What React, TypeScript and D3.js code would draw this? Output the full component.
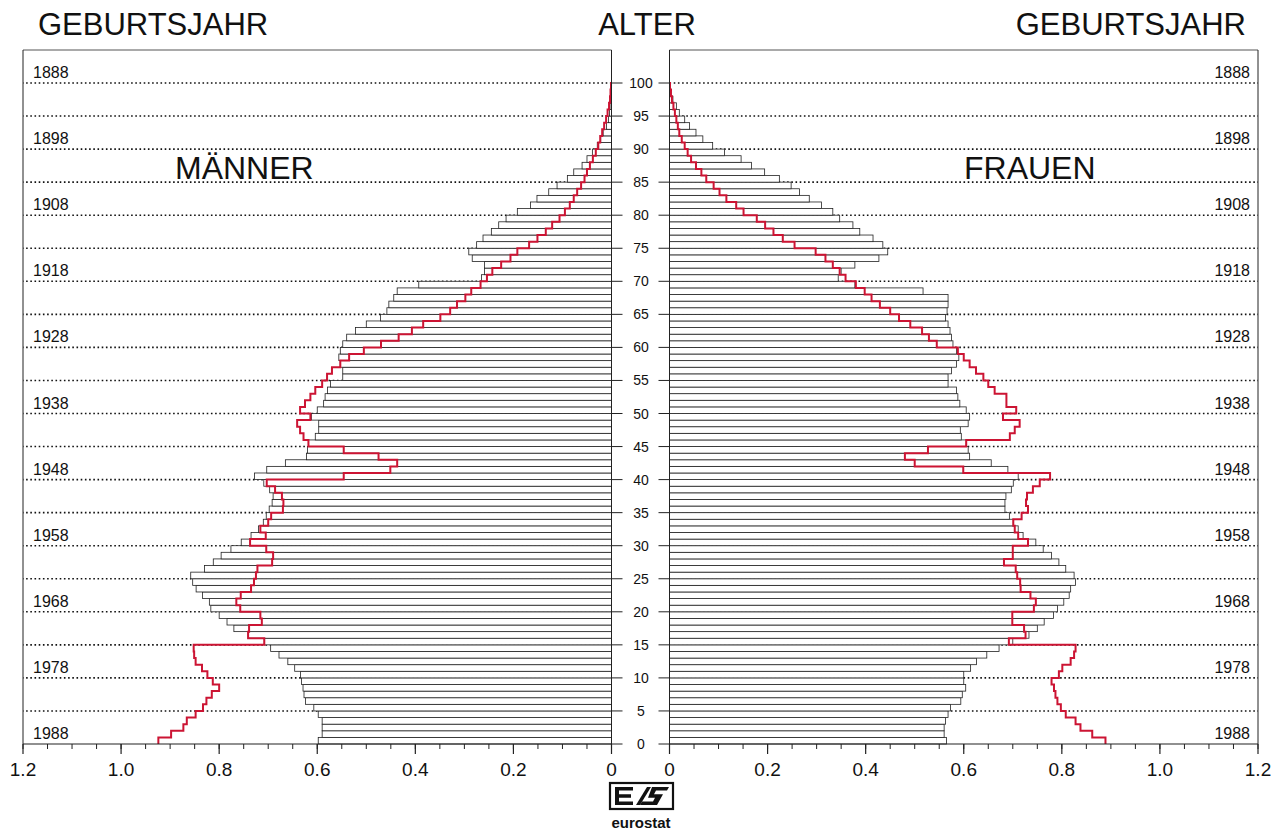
import React from 'react';
import * as d3 from 'd3';

// ---- data (ages 0..99, share in %) ----
const ageTicks = d3.range(0, 101, 5);
const birthYears = [1888, 1898, 1908, 1918, 1928, 1938, 1948, 1958, 1968, 1978, 1988];
const refYear = 1988;
const xTicks = [0, 0.2, 0.4, 0.6, 0.8, 1.0, 1.2];
const xTickLabels = ['0', '0.2', '0.4', '0.6', '0.8', '1.0', '1.2'];

const maleBars = [
  0.598, 0.590, 0.590, 0.590, 0.598, 0.607, 0.624, 0.627, 0.629, 0.632,
  0.634, 0.646, 0.660, 0.678, 0.695, 0.708, 0.741, 0.770, 0.784, 0.800,
  0.817, 0.820, 0.834, 0.847, 0.854, 0.858, 0.830, 0.812, 0.796, 0.776,
  0.755, 0.735, 0.720, 0.710, 0.704, 0.698, 0.692, 0.690, 0.697, 0.709,
  0.728, 0.703, 0.665, 0.622, 0.620, 0.618, 0.604, 0.597, 0.597, 0.612,
  0.600, 0.587, 0.584, 0.579, 0.573, 0.548, 0.548, 0.553, 0.556, 0.553,
  0.548, 0.540, 0.522, 0.500, 0.471, 0.458, 0.454, 0.444, 0.437, 0.393,
  0.265, 0.259, 0.259, 0.284, 0.291, 0.275, 0.262, 0.245, 0.230, 0.215,
  0.192, 0.165, 0.152, 0.128, 0.111, 0.090, 0.077, 0.060, 0.050, 0.039,
  0.029, 0.022, 0.017, 0.010, 0.006, 0.004, 0.003, 0.002, 0.001, 0.001,
];

const maleRed = [
  0.924, 0.898, 0.873, 0.866, 0.848, 0.833, 0.826, 0.815, 0.800, 0.813,
  0.824, 0.835, 0.848, 0.851, 0.852, 0.708, 0.741, 0.739, 0.713, 0.716,
  0.757, 0.765, 0.756, 0.735, 0.729, 0.725, 0.722, 0.692, 0.690, 0.704,
  0.737, 0.705, 0.716, 0.700, 0.694, 0.670, 0.669, 0.672, 0.686, 0.703,
  0.546, 0.451, 0.437, 0.475, 0.546, 0.618, 0.628, 0.635, 0.641, 0.614,
  0.635, 0.625, 0.614, 0.604, 0.590, 0.580, 0.570, 0.553, 0.535, 0.505,
  0.470, 0.434, 0.407, 0.384, 0.349, 0.329, 0.315, 0.298, 0.286, 0.267,
  0.254, 0.243, 0.225, 0.206, 0.192, 0.168, 0.151, 0.134, 0.121, 0.106,
  0.095, 0.085, 0.077, 0.070, 0.062, 0.055, 0.050, 0.044, 0.038, 0.032,
  0.027, 0.023, 0.019, 0.015, 0.011, 0.008, 0.005, 0.003, 0.002, 0.001,
];

const femaleBars = [
  0.565, 0.560, 0.560, 0.563, 0.568, 0.573, 0.594, 0.597, 0.604, 0.600,
  0.600, 0.614, 0.626, 0.647, 0.672, 0.700, 0.733, 0.750, 0.764, 0.783,
  0.791, 0.804, 0.815, 0.818, 0.828, 0.825, 0.808, 0.794, 0.779, 0.762,
  0.747, 0.721, 0.711, 0.701, 0.693, 0.684, 0.684, 0.686, 0.697, 0.701,
  0.711, 0.690, 0.656, 0.612, 0.609, 0.605, 0.595, 0.593, 0.609, 0.612,
  0.605, 0.592, 0.588, 0.585, 0.568, 0.568, 0.575, 0.585, 0.590, 0.585,
  0.578, 0.575, 0.572, 0.568, 0.563, 0.566, 0.568, 0.568, 0.517, 0.378,
  0.344, 0.350, 0.378, 0.427, 0.445, 0.435, 0.415, 0.388, 0.374, 0.347,
  0.333, 0.310, 0.285, 0.265, 0.248, 0.224, 0.194, 0.167, 0.146, 0.112,
  0.088, 0.068, 0.054, 0.041, 0.031, 0.020, 0.014, 0.007, 0.003, 0.001,
];

const femaleRed = [
  0.889, 0.862, 0.838, 0.828, 0.808, 0.798, 0.791, 0.787, 0.784, 0.779,
  0.794, 0.801, 0.818, 0.825, 0.828, 0.692, 0.726, 0.723, 0.699, 0.699,
  0.743, 0.747, 0.736, 0.716, 0.715, 0.709, 0.706, 0.682, 0.700, 0.700,
  0.731, 0.711, 0.704, 0.701, 0.718, 0.731, 0.727, 0.729, 0.741, 0.755,
  0.776, 0.599, 0.500, 0.480, 0.527, 0.605, 0.694, 0.704, 0.714, 0.680,
  0.707, 0.687, 0.687, 0.663, 0.650, 0.640, 0.625, 0.612, 0.600, 0.588,
  0.545, 0.529, 0.515, 0.491, 0.468, 0.450, 0.429, 0.412, 0.398, 0.380,
  0.359, 0.347, 0.333, 0.318, 0.298, 0.255, 0.231, 0.212, 0.195, 0.178,
  0.151, 0.136, 0.116, 0.102, 0.090, 0.075, 0.065, 0.054, 0.044, 0.037,
  0.031, 0.025, 0.020, 0.017, 0.014, 0.011, 0.008, 0.005, 0.003, 0.001,
];

const FONT = '"Liberation Sans", Arial, Helvetica, sans-serif';
const RED = '#cc1433';

export default function App() {
  const y = d3.scaleLinear().domain([0, 100]).range([744, 83]);
  const xL = d3.scaleLinear().domain([0, 1.2]).range([611.5, 23]);
  const xR = d3.scaleLinear().domain([0, 1.2]).range([669.5, 1258]);
  const minorTicks = d3.range(0, 1.2001, 0.05);

  const stepPath = (vals: number[], x: d3.ScaleLinear<number, number>) => {
    const pts: [number, number][] = [];
    vals.forEach((v, a) => {
      pts.push([x(v), y(a)]);
      pts.push([x(v), y(a + 1)]);
    });
    pts.push([x(0), y(100)]);
    return d3.line()(pts) as string;
  };

  const panel = (
    side: 'L' | 'R',
    x: d3.ScaleLinear<number, number>,
    bars: number[],
    red: number[]
  ) => {
    const x0 = x(0);
    const xEnd = x(1.2);
    const left = Math.min(x0, xEnd);
    const w = Math.abs(xEnd - x0);
    return (
      <g key={side}>
        {ageTicks.filter((a) => a > 0).map((a) => (
          <line key={'d' + a} x1={x0} x2={xEnd} y1={y(a)} y2={y(a)}
            stroke="#111" strokeWidth={1.6} strokeDasharray="1.6 2.6" />
        ))}
        {bars.map((v, a) => (
          <rect key={'b' + a}
            x={Math.min(x(v), x0)} width={Math.abs(x(v) - x0)}
            y={y(a + 1)} height={y(a) - y(a + 1)}
            fill="#fff" stroke="#222" strokeWidth={0.8} />
        ))}
        <path d={stepPath(red, x)} fill="none" stroke={RED} strokeWidth={2} strokeLinejoin="miter" />
        <line x1={left} x2={left + w} y1={50} y2={50} stroke="#555" strokeWidth={1} />
        <line x1={left} x2={left} y1={50} y2={744} stroke="#222" strokeWidth={1} />
        <line x1={left + w} x2={left + w} y1={50} y2={744} stroke="#222" strokeWidth={1} />
        <line x1={left} x2={left + w} y1={744} y2={744} stroke="#222" strokeWidth={1.2} />
        {minorTicks.map((t, i) => (
          <line key={'m' + i} x1={x(t)} x2={x(t)} y1={744} y2={749} stroke="#222" strokeWidth={1} />
        ))}
        {xTicks.map((t, i) => (
          <g key={'t' + i}>
            <line x1={x(t)} x2={x(t)} y1={744} y2={754} stroke="#222" strokeWidth={1.2} />
            <text x={x(t)} y={776} textAnchor="middle" fontFamily={FONT} fontSize={19} fill="#111">
              {xTickLabels[i]}
            </text>
          </g>
        ))}
        {ageTicks.map((a) => (
          <line key={'a' + a}
            x1={x0} x2={side === 'L' ? x0 + 11 : x0 - 11}
            y1={y(a)} y2={y(a)} stroke="#222" strokeWidth={1} />
        ))}
        {birthYears.map((yr) => (
          <text key={'y' + yr}
            x={side === 'L' ? 33 : 1250} y={y(refYear - yr) - 5}
            textAnchor={side === 'L' ? 'start' : 'end'}
            fontFamily={FONT} fontSize={16} fill="#111">
            {yr}
          </text>
        ))}
      </g>
    );
  };

  return (
    <svg width={1285} height={832} viewBox="0 0 1285 832"
      style={{ position: 'absolute', left: 0, top: 0, background: '#fff' }}>
      <rect x={0} y={0} width={1285} height={832} fill="#fff" />
      {panel('L', xL, maleBars, maleRed)}
      {panel('R', xR, femaleBars, femaleRed)}

      {ageTicks.map((a) => (
        <text key={'al' + a} x={641} y={y(a) + 5} textAnchor="middle"
          fontFamily={FONT} fontSize={14} fill="#111">{a}</text>
      ))}

      <text x={38} y={35} fontFamily={FONT} fontSize={31} fill="#111">GEBURTSJAHR</text>
      <text x={647} y={35} textAnchor="middle" fontFamily={FONT} fontSize={31} fill="#111">ALTER</text>
      <text x={1246} y={35} textAnchor="end" fontFamily={FONT} fontSize={31} fill="#111">GEBURTSJAHR</text>
      <text x={175} y={179} fontFamily={FONT} fontSize={32} fill="#111">MÄNNER</text>
      <text x={964} y={179} fontFamily={FONT} fontSize={32} fill="#111">FRAUEN</text>

      <g>
        <rect x={610} y={783} width={63} height={26} fill="#fff" stroke="#111" strokeWidth={2.2} />
        <path d="M615,787 H633 V790.5 H619 V794.3 H631 V797.7 H619 V801.5 H633 V805 H615 Z" fill="#111" />
        <path d="M647,787 L651,787 L640,805 L636,805 Z" fill="#111" />
        <path d="M652,787 H669 L667,790.5 H656 L654,794.3 H663 L657,805 H640 L642,801.5 H653 L655,797.7 H648 Z" fill="#111" />
        <text x={641} y={828} textAnchor="middle" fontFamily={FONT} fontWeight="bold" fontSize={15} fill="#111">eurostat</text>
      </g>
    </svg>
  );
}
